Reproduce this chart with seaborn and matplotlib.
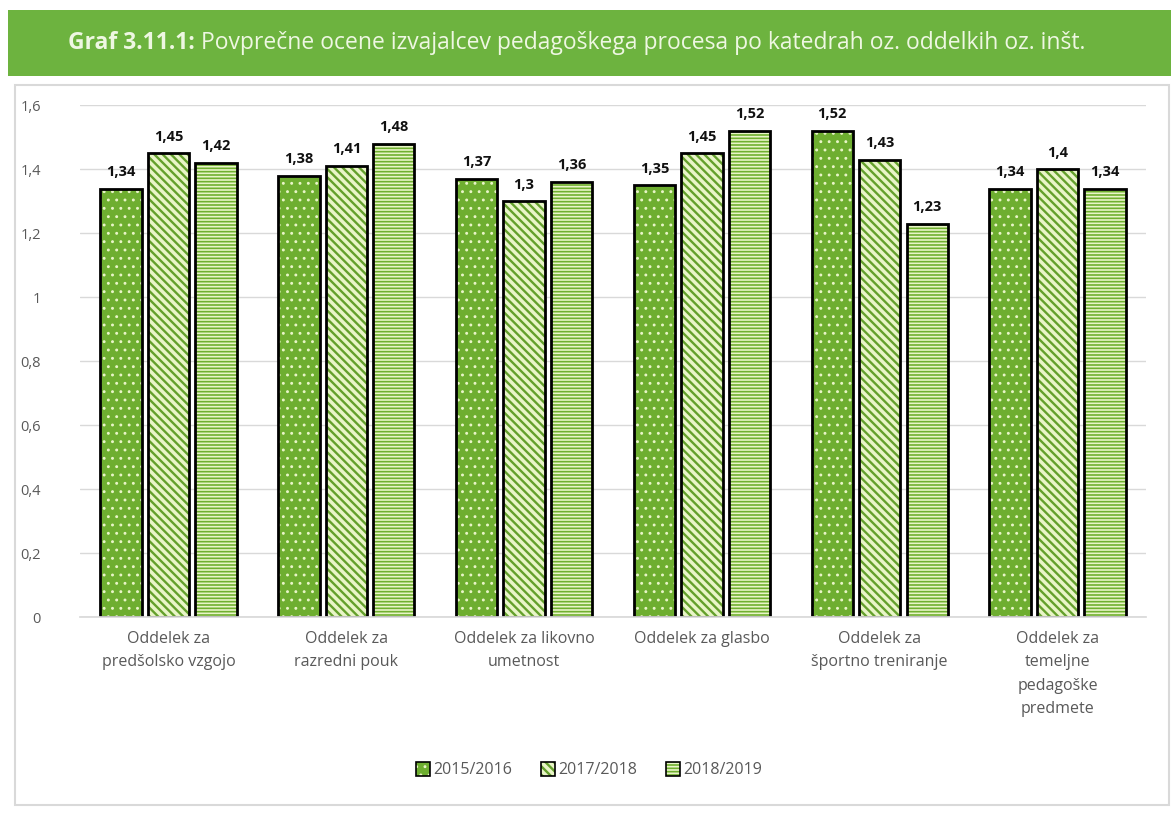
import matplotlib
matplotlib.use("Agg")
import matplotlib.pyplot as plt
import matplotlib.colors as mcolors
from matplotlib.patches import Rectangle
import seaborn as sns
import pandas as pd

categories = [
    "Oddelek za\npredšolsko vzgojo",
    "Oddelek za\nrazredni pouk",
    "Oddelek za likovno\numetnost",
    "Oddelek za glasbo",
    "Oddelek za\nšportno treniranje",
    "Oddelek za\ntemeljne\npedagoške\npredmete",
]
years = ["2015/2016", "2017/2018", "2018/2019"]
v2015 = [1.34, 1.38, 1.37, 1.35, 1.52, 1.34]
v2017 = [1.45, 1.41, 1.30, 1.45, 1.43, 1.40]
v2018 = [1.42, 1.48, 1.36, 1.52, 1.23, 1.34]
yticks = [0, 0.2, 0.4, 0.6, 0.8, 1.0, 1.2, 1.4, 1.6]

rows = []
for series, vals in zip(years, [v2015, v2017, v2018]):
    for c, v in zip(categories, vals):
        rows.append({"Oddelek": c, "Leto": series, "Ocena": v})
df = pd.DataFrame(rows)

sns.set_theme(style="white")
plt.rcParams["font.family"] = ["Open Sans", "DejaVu Sans"]
plt.rcParams["hatch.linewidth"] = 1.5

fig = plt.figure(figsize=(11.71, 8.23), dpi=100)
ax = fig.add_axes([0.068, 0.250, 0.911, 0.622])

# outer frame and banner
fig.patches.append(Rectangle((0.013, 0.022), 0.985, 0.875, transform=fig.transFigure,
                             facecolor="white", edgecolor="#d9d9d9", lw=1.5, zorder=-5))
fig.patches.append(Rectangle((0.007, 0.908), 0.993, 0.080, transform=fig.transFigure,
                             facecolor="#6db33f", edgecolor="none", zorder=-4))
t1 = fig.text(0.058, 0.948, "Graf 3.11.1: ", color="#eef7e2", fontsize=16.5, fontweight="bold",
              va="center", ha="left")
fig.canvas.draw()
bb = t1.get_window_extent().transformed(fig.transFigure.inverted())
fig.text(bb.x1, 0.948, "Povprečne ocene izvajalcev pedagoškega procesa po katedrah oz. oddelkih oz. inšt.",
         color="#eef7e2", fontsize=16.5, va="center", ha="left")

face = {"2015/2016": "#6eae30", "2017/2018": "#e9f5c8", "2018/2019": "#e9f5c8"}
hatchc = {"2015/2016": "#e9f5c8", "2017/2018": "#64a02c", "2018/2019": "#70b02f"}
hatches = {"2015/2016": "..", "2017/2018": "\\\\\\\\", "2018/2019": "-----"}
hatchlw = {"2015/2016": 0.9, "2017/2018": 1.7, "2018/2019": 1.2}


def style_patch(p, yr):
    p.set_hatch(hatches[yr])
    p.set_edgecolor("black")
    if hasattr(p, "set_hatch_linewidth"):
        p.set_hatch_linewidth(hatchlw[yr])
    p._hatch_color = mcolors.to_rgba(hatchc[yr])


sns.barplot(data=df, x="Oddelek", y="Ocena", hue="Leto", order=categories,
            hue_order=years, palette=face, saturation=1, width=0.8, gap=0.13,
            edgecolor="black", linewidth=2, ax=ax, legend=False)

for cont, yr in zip(ax.containers, years):
    for p in cont.patches:
        style_patch(p, yr)
    ax.bar_label(cont, labels=[f"{v:g}".replace(".", ",") for v in cont.datavalues],
                 padding=7, fontsize=10.5, fontweight="bold", color="#111111")

ax.set_ylim(0, 1.6)
ax.set_yticks(yticks)
ax.set_yticklabels([f"{t:g}".replace(".", ",") for t in yticks], color="#595959", fontsize=10.5)
ax.tick_params(axis="y", length=0, pad=28)
ax.tick_params(axis="x", length=0, pad=10, labelsize=11.5, labelcolor="#595959")
ax.grid(axis="y", color="#d9d9d9", lw=1)
ax.set_axisbelow(True)
for s in ["top", "right", "left"]:
    ax.spines[s].set_visible(False)
ax.spines["bottom"].set_color("#d9d9d9")
ax.set_xlabel("")
ax.set_ylabel("")
for lab in ax.get_xticklabels():
    lab.set_linespacing(1.6)

# legend
handles = []
for yr in years:
    h = Rectangle((0, 0), 1, 1, facecolor=face[yr], edgecolor="black", lw=1.2,
                  hatch=hatches[yr])
    handles.append(h)
leg = fig.legend(handles, years, loc="center", bbox_to_anchor=(0.503, 0.064), ncol=3,
                 frameon=False, fontsize=11.5, handlelength=0.9, handleheight=0.9,
                 handletextpad=0.2, columnspacing=1.8)
for t in leg.get_texts():
    t.set_color("#595959")
for h, yr in zip(leg.legend_handles, years):
    style_patch(h, yr)
    h.set_linewidth(1.2)

fig.savefig("out.png", dpi=100)
